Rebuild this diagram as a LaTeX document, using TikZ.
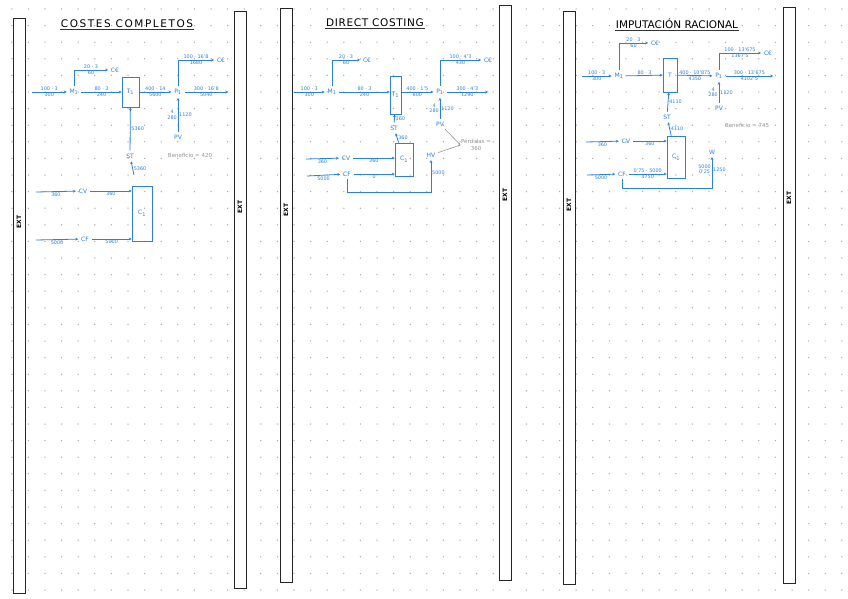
\documentclass[tikz,border=0pt]{standalone}
\usepackage{fontspec}
\setmainfont{DejaVu Sans}
\usepackage{xcolor}
\usepackage{tikz}
\usetikzlibrary{arrows.meta, positioning}
\definecolor{pen}{RGB}{45,128,215}
\definecolor{pencil}{RGB}{150,150,150}
\definecolor{dotgrid}{RGB}{175,175,175}

\begin{document}
\begin{tikzpicture}[
  x=1pt, y=-1pt,
  flow/.style={draw=pen, line width=0.8pt, -{Stealth[length=2.8pt, width=2.8pt]}},
  num/.style={font=\fontsize{4.9}{5.4}\selectfont, text=pen, inner sep=0.8pt},
  var/.style={font=\fontsize{6}{7}\selectfont, text=pen, inner sep=0.5pt, outer sep=2.5pt},
  acct/.style={draw=pen, line width=0.8pt, font=\fontsize{6}{7}\selectfont, text=pen, inner sep=0pt},
  bar/.style={draw=black!85, fill=white, line width=1pt},
  ext/.style={rotate=90, font=\fontsize{6}{7}\selectfont\bfseries},
  heading/.style={font=\fontsize{10.5}{12}\selectfont, inner sep=1pt},
  note/.style={font=\fontsize{5.5}{6.5}\selectfont, text=pencil, align=center, inner sep=0.5pt},
  hint/.style={draw=pencil, line width=0.6pt, -{Stealth[length=2.4pt]}}
]
\fill[white] (0,0) rectangle (848,599);
\useasboundingbox (0,0) rectangle (848,599);
\foreach \i in {0,...,50} {\foreach \j in {0,...,35} {\fill[dotgrid] (11.8+16.6*\i, 9+16.6*\j) circle (0.75);}}
\foreach \xa/\ya/\yb/\ye [count=\k] in {13/19/593/222, 234/12/588/207, 280/9/582/210, 499/6/580/195, 563/12/584/205, 783/8/583/198} {
  \draw[bar] (\xa,\ya) rectangle (\xa+12,\yb);
  \node[ext] (ext\k) at (\xa+6,\ye) {EXT};
}

\node[heading] (costes) at (127,24) {\addfontfeature{LetterSpace=15}COSTES COMPLETOS};
\draw[line width=1pt, black!80] (costes.south west) -- (costes.south east);
\coordinate (aIn) at (32,92);
\node[var] (aM) at (74,92) {M\textsubscript{1}};
\node[var] (aCE1) at (115,70) {C€};
\node[acct, minimum width=17pt, minimum height=30pt] (aT) at (130.5,92) {T\textsubscript{1}};
\node[var] (aP) at (178,92) {P\textsubscript{1}};
\node[var] (aCE2) at (221,60) {C€};
\coordinate (aOut) at (228,92);
\node[var] (aPV) at (178,137) {PV};
\node[var] (aST) at (130,156) {ST};
\node[note] (aBen) at (190,155) {Beneficio = 420};
\node[acct, minimum width=20pt, minimum height=55pt] (aC) at (142,213.5) {C\textsubscript{1}};
\coordinate (aInV) at (36,192);
\node[var] (aCV) at (83,191) {CV};
\coordinate (aInF) at (36,240);
\node[var] (aCF) at (85,239) {CF};

\draw[flow] (aIn) -- (aM) node[num, midway, above]{100 · 3} node[num, midway, below]{300};
\draw[flow] (aM) |- (aCE1) node[num, pos=0.75, above]{20 · 3} node[num, pos=0.75, below]{60};
\draw[flow] (aM) -- (aT) node[num, midway, above]{80 · 3} node[num, midway, below]{240};
\draw[flow] (aT) -- (aP) node[num, midway, above]{400 · 14} node[num, midway, below]{5600};
\draw[flow] (aP) |- (aCE2) node[num, pos=0.75, above]{100 · 16'8} node[num, pos=0.75, below]{1680};
\draw[flow] (aP) -- (aOut) node[num, midway, above]{300 · 16'8} node[num, midway, below]{5040};
\draw[flow] (aPV) -- (aP) node[num, midway, left, align=center]{4\\280} node[num, midway, right]{1120};
\draw[flow] (aST) -- (aT) node[num, midway, right]{5360};
\draw[flow, shorten <=11pt] (aC) -- (aST) node[num, pos=0.7, right]{5360};
\draw[flow] (aInV) -- (aCV) node[num, midway, below]{360};
\draw[flow] (aCV) -- (aC.west |- aCV) node[num, midway, below]{360};
\draw[flow] (aInF) -- (aCF) node[num, midway, below]{5000};
\draw[flow] (aCF) -- (aC.west |- aCF) node[num, midway, below]{5000};

\node[heading] (direct) at (375,23) {\addfontfeature{LetterSpace=6}DIRECT COSTING};
\draw[line width=1pt, black!80] (direct.south west) -- (direct.south east);
\coordinate (bIn) at (294,92);
\node[var] (bM) at (332,92) {M\textsubscript{1}};
\node[var] (bCE1) at (367,60) {C€};
\node[acct, minimum width=11pt, minimum height=38pt] (bT) at (395.5,95) {T\textsubscript{1}};
\node[var] (bP) at (440,92) {P\textsubscript{1}};
\node[var] (bCE2) at (488,60) {C€};
\coordinate (bOut) at (488,92);
\node[var] (bPV) at (440,124) {PV};
\node[var] (bST) at (394,128) {ST};
\node[acct, minimum width=18pt, minimum height=33pt] (bC) at (404,159.5) {C\textsubscript{1}};
\coordinate (bInV) at (306,159);
\node[var] (bCV) at (346,158) {CV};
\coordinate (bInF) at (307,176);
\node[var] (bCF) at (347,174) {CF};
\node[var] (bHV) at (431,155) {HV};
\node[note] (bLoss) at (476,145) {Pérdidas =\\360};

\draw[flow] (bIn) -- (bM) node[num, midway, above]{100 · 3} node[num, midway, below]{300};
\draw[flow] (bM) |- (bCE1) node[num, pos=0.75, above]{20 · 3} node[num, pos=0.75, below]{60};
\draw[flow] (bM) -- (bT.west |- bM) node[num, midway, above]{80 · 3} node[num, midway, below]{240};
\draw[flow] (bT.east |- bP) -- (bP) node[num, midway, above]{400 · 1'5} node[num, midway, below]{600};
\draw[flow] (bP) |- (bCE2) node[num, pos=0.75, above]{100 · 4'3} node[num, pos=0.75, below]{430};
\draw[flow] (bP) -- (bOut) node[num, midway, above]{300 · 4'3} node[num, midway, below]{1290};
\draw[flow] (bPV) -- (bP) node[num, midway, left, align=center]{4\\280} node[num, midway, right]{1120};
\draw[flow] (bST) -- (bT) node[num, midway, right]{360};
\draw[flow] (bC) -- (bST) node[num, midway, right]{360};
\draw[flow] (bInV) -- (bCV) node[num, midway, below]{360};
\draw[flow] (bCV) -- (bC.west |- bCV) node[num, midway, below]{360};
\draw[flow] (bInF) -- (bCF) node[num, midway, below]{5000};
\draw[flow] (bCF) -- (bC.west |- bCF) node[num, midway, below]{0};
\draw[flow] (bCF) -- ++(0,18) -| (bHV) node[num, pos=0.8, right]{5000};
\draw[hint] (bPV) -- (bLoss.west);
\draw[hint] (bHV) -- (bLoss.west);

\node[heading] (imput) at (677,24) {IMPUTACIÓN RACIONAL};
\draw[line width=1pt, black!80] (imput.south west) -- (imput.south east);
\coordinate (cIn) at (582,76);
\node[var] (cM) at (619,76) {M\textsubscript{1}};
\node[var] (cCE1) at (655,43) {C€};
\node[acct, minimum width=14pt, minimum height=34pt] (cT) at (670,75) {T};
\node[var] (cP) at (719,76) {P\textsubscript{1}};
\node[var] (cCE2) at (768,53) {C€};
\coordinate (cOut) at (773,76);
\node[var] (cPV) at (719,108) {PV};
\node[var] (cST) at (667,117) {ST};
\node[note] (cBen) at (747,125) {Beneficio = 745};
\node[acct, minimum width=18pt, minimum height=42pt] (cC) at (676,157) {C\textsubscript{1}};
\coordinate (cInV) at (586,142);
\node[var] (cCV) at (626,141) {CV};
\coordinate (cInF) at (587,175);
\node[var] (cCF) at (622,174) {CF};
\node[var] (cW) at (712,152) {W};

\draw[flow] (cIn) -- (cM) node[num, midway, above]{100 · 3} node[num, midway, below]{300};
\draw[flow] (cM) |- (cCE1) node[num, pos=0.75, above]{20 · 3} node[num, pos=0.75, below]{60};
\draw[flow] (cM) -- (cT) node[num, midway, above]{80 · 3};
\draw[flow] (cT) -- (cP) node[num, midway, above]{400 · 10'875} node[num, midway, below]{4350};
\draw[flow] (cP) |- (cCE2) node[num, pos=0.75, above]{100 · 13'675} node[num, pos=0.75, below]{1367'5};
\draw[flow] (cP) -- (cOut) node[num, midway, above]{300 · 13'675} node[num, midway, below]{4102'5};
\draw[flow] (cPV) -- (cP) node[num, midway, left, align=center]{4\\280} node[num, midway, right]{1120};
\draw[flow] (cST) -- (cT) node[num, midway, right]{4110};
\draw[flow] (cC) -- (cST) node[num, midway, right]{4110};
\draw[flow] (cInV) -- (cCV) node[num, midway, below]{360};
\draw[flow] (cCV) -- (cC.west |- cCV) node[num, midway, below]{360};
\draw[flow] (cInF) -- (cCF) node[num, midway, below]{5000};
\draw[flow] (cCF) -- (cC.west |- cCF) node[num, midway, above]{0'75 · 5000} node[num, midway, below]{3750};
\draw[flow] (cCF) -- ++(0,14) -| (cW) node[num, pos=0.8, left, align=center]{5000\\0'25} node[num, pos=0.8, right]{1250};
\end{tikzpicture}
\end{document}
